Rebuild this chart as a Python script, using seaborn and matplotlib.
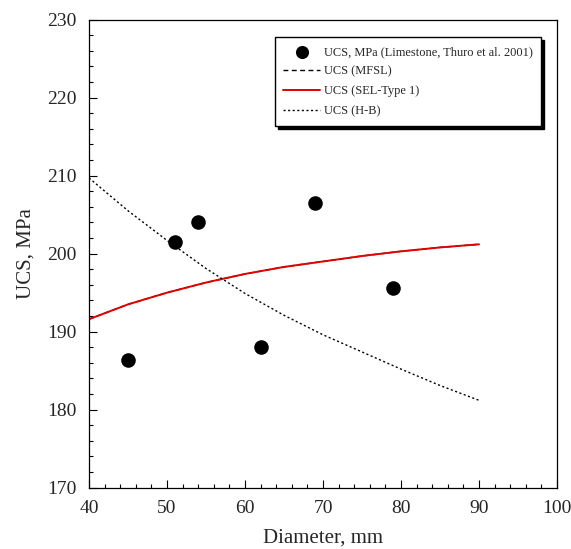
import matplotlib
matplotlib.use("Agg")
import matplotlib.pyplot as plt
from matplotlib.ticker import MultipleLocator
import pandas as pd
import seaborn as sns

# measured UCS (Limestone, Thuro et al. 2001)
diam_obs = [45, 51, 54, 62, 69, 79]
ucs_obs = [186.4, 201.5, 204.0, 188.0, 206.5, 195.6]

# model curves
diam_fit = [40, 45, 50, 55, 60, 65, 70, 75, 80, 85, 90]
ucs_mfsl = [191.6, 193.5, 195.0, 196.3, 197.4, 198.3, 199.0, 199.7, 200.3, 200.8, 201.2]
ucs_sel = [191.6, 193.5, 195.0, 196.3, 197.4, 198.3, 199.0, 199.7, 200.3, 200.8, 201.2]
ucs_hb = [209.7, 205.5, 201.7, 198.1, 194.9, 192.1, 189.6, 187.4, 185.2, 183.1, 181.2]

sns.set_style("ticks")
plt.rcParams["font.family"] = ["Liberation Serif", "DejaVu Serif"]

obs = pd.DataFrame({"d": diam_obs, "ucs": ucs_obs})
fit = pd.DataFrame({"d": diam_fit, "mfsl": ucs_mfsl, "sel": ucs_sel, "hb": ucs_hb})

fig = plt.figure(figsize=(5.71, 5.49), dpi=100)
ax = fig.add_axes([0.1559, 0.1117, 0.8196, 0.8525])

sns.scatterplot(data=obs, x="d", y="ucs", ax=ax, s=110, color="black",
                edgecolor="black", linewidth=0, zorder=5,
                label="UCS, MPa (Limestone, Thuro et al. 2001)")
sns.lineplot(data=fit, x="d", y="mfsl", ax=ax, color="black", lw=1.0,
             linestyle=(0, (3.5, 2.5)), label="UCS (MFSL)")
sns.lineplot(data=fit, x="d", y="sel", ax=ax, color="#e00000", lw=1.4,
             label="UCS (SEL-Type 1)")
sns.lineplot(data=fit, x="d", y="hb", ax=ax, color="black", lw=1.0,
             linestyle=(0, (1.5, 1.8)), label="UCS (H-B)")

ax.set_xlim(40, 100)
ax.set_ylim(170, 230)
ax.xaxis.set_major_locator(MultipleLocator(10))
ax.xaxis.set_minor_locator(MultipleLocator(2))
ax.yaxis.set_major_locator(MultipleLocator(10))
ax.yaxis.set_minor_locator(MultipleLocator(2))
ax.tick_params(which="both", direction="in", top=False, right=False,
               color="black", width=0.8)
ax.tick_params(which="major", length=6, labelsize=14, pad=9)
ax.tick_params(which="minor", length=3)
for sp in ax.spines.values():
    sp.set_visible(True)
    sp.set_color("black")
    sp.set_linewidth(0.9)

ax.set_xlabel("Diameter, mm", fontsize=15, labelpad=8)
ax.set_ylabel("UCS, MPa", fontsize=15, labelpad=8)

leg = ax.legend(loc="upper right", bbox_to_anchor=(0.966, 0.962),
                borderaxespad=0, fontsize=8.9, frameon=True, fancybox=False,
                shadow={"color": "black", "alpha": 1}, handlelength=3.0,
                handletextpad=0.25, labelspacing=0.62, borderpad=0.7,
                markerscale=0.9)
leg.get_frame().set_edgecolor("black")
leg.get_frame().set_linewidth(1.0)
leg.get_frame().set_alpha(1)

fig.savefig("out.png", dpi=100)
